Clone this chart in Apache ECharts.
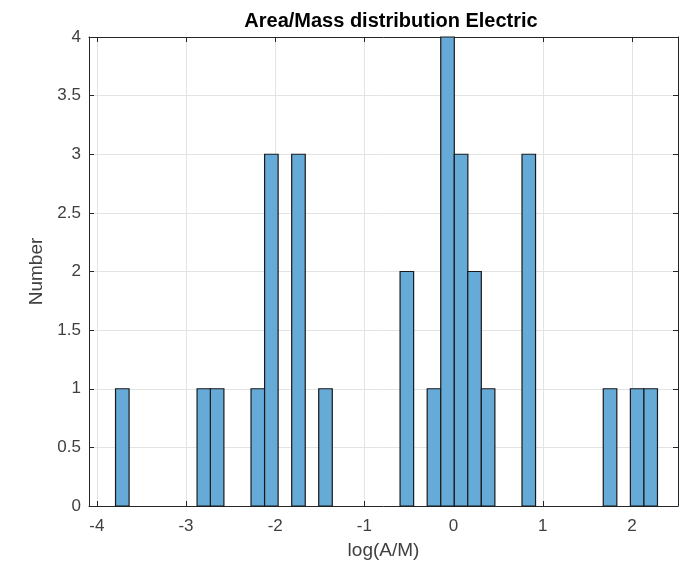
<!DOCTYPE html>
<html>
<head>
<meta charset="utf-8">
<script src="https://cdn.jsdelivr.net/npm/echarts@6/dist/echarts.min.js"></script>
<style>
    html, body { margin: 0; padding: 0; background: #fff; }
    #chart { width: 680px; height: 566px; }
</style>
</head>
<body>
<div id="chart"></div>
<script>
// histogram bins (left edge of each non-empty bin, and its count)
var binWidth = 0.152;
var binLeft = [-3.790, -2.876, -2.727, -2.271, -2.119, -1.815, -1.512, -0.600,
    -0.296, -0.144, 0.008, 0.159, 0.311, 0.767, 1.678, 1.982, 2.134];
var counts = [1, 1, 1, 1, 3, 3, 1, 2, 1, 4, 3, 2, 1, 3, 1, 1, 1];
var xRange = [-4.0875, 2.516];
var yRange = [0, 4];

var axisColor = '#262626';
var labelColor = '#404040';
var font = '"Liberation Sans", Arial, sans-serif';

var histData = binLeft.map(function (left, i) {
    return [left, left + binWidth, counts[i]];
});

// only integer positions get a label on the x axis
function intLabel(v) {
    if (Math.abs(v - Math.round(v)) > 1e-6) {
        return '';
    }
    return String(Math.round(v));
}

var chart = echarts.init(document.getElementById('chart'));
var options = {
    animation: false,
    title: {
        text: 'Area/Mass distribution Electric',
        left: 386,
        textAlign: 'center',
        top: 6,
        textStyle: {
            fontFamily: font,
            fontWeight: 'bold',
            fontSize: 20,
            color: '#000'
        }
    },
    grid: {
        left: 89,
        right: 2,
        top: 37,
        bottom: 60
    },
    xAxis: [{
        type: 'value',
        min: xRange[0],
        max: xRange[1],
        splitNumber: 6,
        name: 'log(A/M)',
        nameLocation: 'middle',
        nameGap: 35,
        nameTextStyle: { fontFamily: font, fontSize: 19, color: labelColor },
        axisLine: { onZero: false, lineStyle: { color: axisColor } },
        axisTick: { inside: true, length: 5, lineStyle: { color: axisColor } },
        axisLabel: {
            fontFamily: font, fontSize: 17, color: labelColor, margin: 12,
            formatter: intLabel, showMinLabel: false, showMaxLabel: false
        },
        splitLine: { show: true, lineStyle: { color: '#e3e3e3' } }
    }, {
        type: 'value',
        position: 'top',
        min: xRange[0],
        max: xRange[1],
        splitNumber: 6,
        axisLine: { onZero: false, lineStyle: { color: axisColor } },
        axisTick: { inside: true, length: 5, lineStyle: { color: axisColor } },
        axisLabel: { show: false },
        splitLine: { show: false }
    }],
    yAxis: [{
        type: 'value',
        min: yRange[0],
        max: yRange[1],
        interval: 0.5,
        name: 'Number',
        nameLocation: 'middle',
        nameGap: 41,
        nameTextStyle: { fontFamily: font, fontSize: 19, color: labelColor },
        axisLine: { show: true, onZero: false, lineStyle: { color: axisColor } },
        axisTick: { show: true, inside: true, length: 5, lineStyle: { color: axisColor } },
        axisLabel: { fontFamily: font, fontSize: 17, color: labelColor, margin: 8 },
        splitLine: { show: true, lineStyle: { color: '#e3e3e3' } }
    }, {
        type: 'value',
        position: 'right',
        min: yRange[0],
        max: yRange[1],
        interval: 0.5,
        axisLine: { show: true, onZero: false, lineStyle: { color: axisColor } },
        axisTick: { show: true, inside: true, length: 5, lineStyle: { color: axisColor } },
        axisLabel: { show: false },
        splitLine: { show: false }
    }],
    series: [{
        type: 'custom',
        xAxisIndex: 0,
        yAxisIndex: 0,
        data: histData,
        encode: { x: [0, 1], y: 2 },
        renderItem: function (params, api) {
            var top = api.coord([api.value(0), api.value(2)]);
            var bottom = api.coord([api.value(1), 0]);
            return {
                type: 'rect',
                shape: {
                    x: top[0],
                    y: top[1],
                    width: bottom[0] - top[0],
                    height: bottom[1] - top[1]
                },
                style: {
                    fill: '#66aad7',
                    stroke: '#1a1a1a',
                    lineWidth: 1.2
                }
            };
        }
    }]
};
chart.setOption(options);
</script>
</body>
</html>
